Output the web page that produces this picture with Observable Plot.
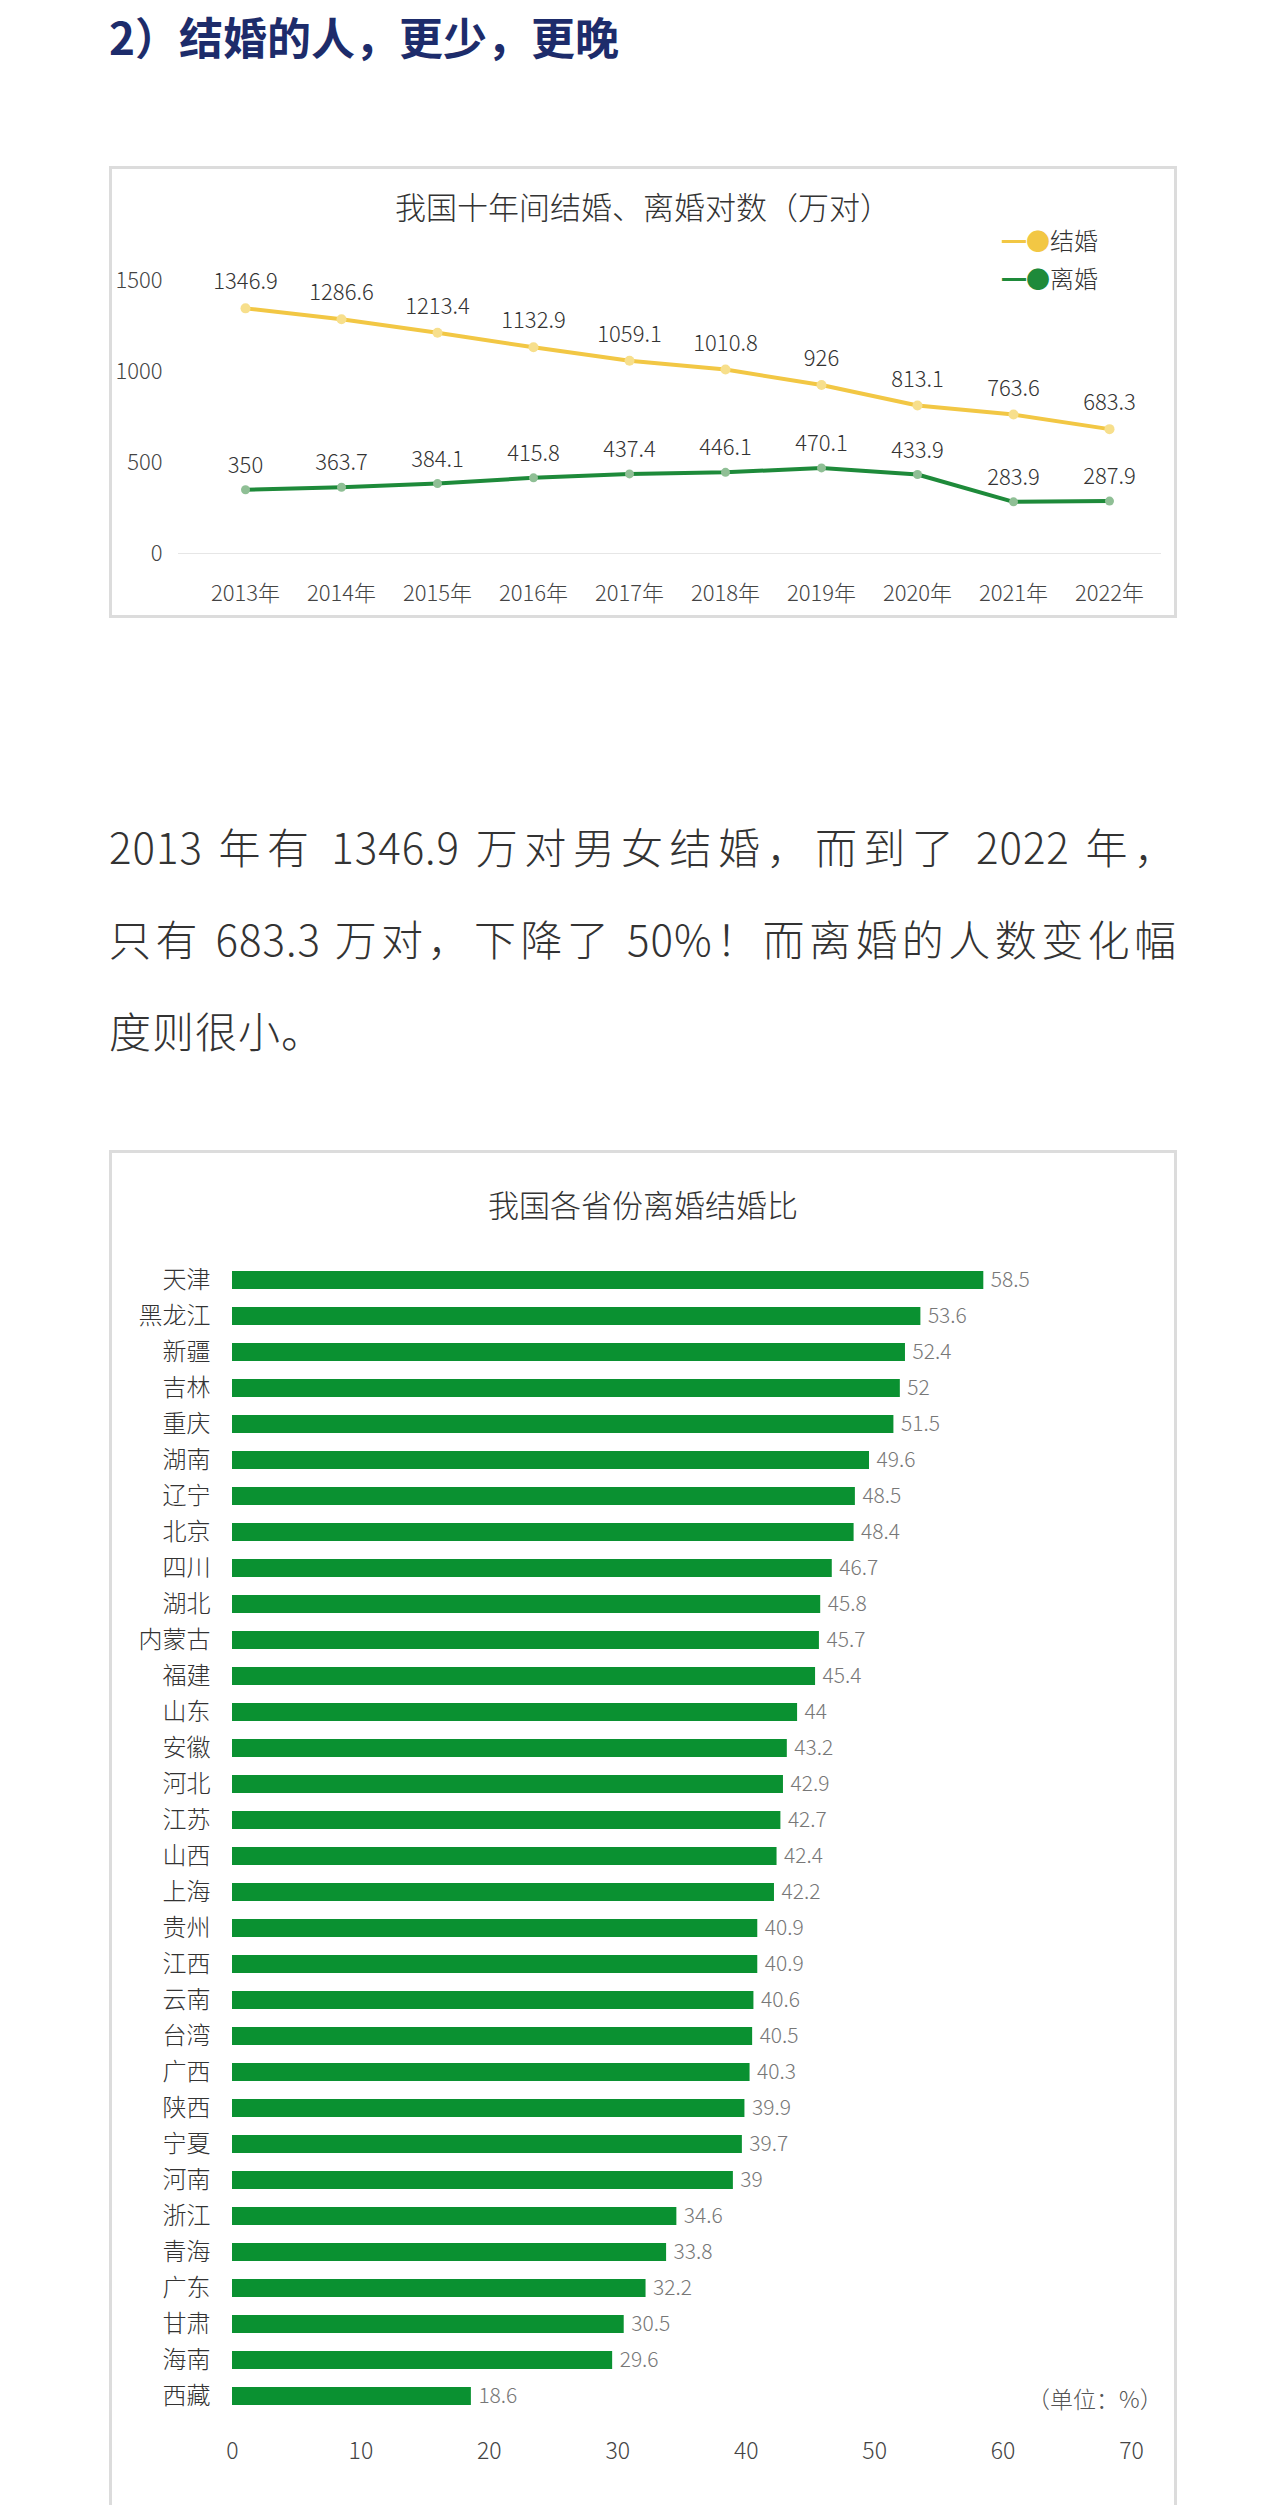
<!DOCTYPE html>
<html><head><meta charset="utf-8">
<script src="https://cdn.jsdelivr.net/npm/d3@7"></script>
<script src="https://cdn.jsdelivr.net/npm/@observablehq/plot@0.6"></script>
<style>
body{margin:0;background:#fff;font-family:"Noto Sans CJK SC","Noto Sans",sans-serif;}
#page{position:relative;width:1284px;height:2505px;overflow:hidden;}
.abs{position:absolute;}
.box{position:absolute;border:3px solid #dcdcdc;box-sizing:border-box;background:#fff;}
h2{position:absolute;left:109px;top:4px;margin:0;font-size:44px;font-weight:700;color:#1d2c6b;}
.para{position:absolute;left:109px;top:800px;width:1068px;font-size:42px;font-weight:300;color:#333;line-height:92px;letter-spacing:1px;}
.para div{text-align:justify;text-align-last:justify;}
.para div.last{text-align-last:left;}
.title{position:absolute;left:0;width:100%;text-align:center;font-size:31px;font-weight:300;color:#333;}
</style></head>
<body><div id="page">
<h2>2）结婚的人，更少，更晚</h2>
<div class="box" id="box1" style="left:109px;top:166px;width:1068px;height:452px;">
  <div class="title" style="top:14px;">我国十年间结婚、离婚对数（万对）</div>
  <div id="line"></div>
  <div class="abs" style="left:890px;top:52px;font-size:24px;font-weight:300;color:#333;line-height:38px;">
    <div><span style="color:#f2c744">━●</span>结婚</div>
    <div><span style="color:#1e8a3a">━●</span>离婚</div>
  </div>
</div>
<div class="para">
  <div>2013 年有 1346.9 万对男女结婚，而到了 2022 年，</div>
  <div>只有 683.3 万对，下降了 50%！而离婚的人数变化幅</div>
  <div class="last">度则很小。</div>
</div>
<div class="box" id="box2" style="left:109px;top:1150px;width:1068px;height:1400px;">
  <div class="title" style="top:28px;">我国各省份离婚结婚比</div>
  <div id="bar"></div>
  <div class="abs" style="left:915px;top:1228px;font-size:23px;font-weight:300;color:#555;">（单位：%）</div>
</div>
</div>
<script>
const years = ["2013年","2014年","2015年","2016年","2017年","2018年","2019年","2020年","2021年","2022年"];
const marriage = [1346.9,1286.6,1213.4,1132.9,1059.1,1010.8,926,813.1,763.6,683.3];
const divorce = [350,363.7,384.1,415.8,437.4,446.1,470.1,433.9,283.9,287.9];

const provinces = ["天津","黑龙江","新疆","吉林","重庆","湖南","辽宁","北京","四川","湖北","内蒙古","福建","山东","安徽","河北","江苏","山西","上海","贵州","江西","云南","台湾","广西","陕西","宁夏","河南","浙江","青海","广东","甘肃","海南","西藏"];
const ratios = [58.5,53.6,52.4,52,51.5,49.6,48.5,48.4,46.7,45.8,45.7,45.4,44,43.2,42.9,42.7,42.4,42.2,40.9,40.9,40.6,40.5,40.3,39.9,39.7,39,34.6,33.8,32.2,30.5,29.6,18.6];

const font = "'Noto Sans CJK SC', sans-serif";
const m = years.map((y,i)=>({year:y, v:marriage[i]}));
const dv = years.map((y,i)=>({year:y, v:divorce[i]}));

const line = Plot.plot({
  width: 1062, height: 446,
  marginLeft: 66, marginRight: 13, marginBottom: 44,
  style:{fontFamily:font, fontSize:"22px", fontWeight:300, color:"#444", background:"transparent"},
  x:{type:"point", domain:years, range:[130,1000], padding:0, label:null, tickSize:0, tickPadding:14},
  y:{domain:[0,1500], range:[384,111], ticks:[0,500,1000,1500], tickFormat:"d", label:null, tickSize:0, tickPadding:16},
  marks:[
    Plot.ruleY([0],{stroke:"#e6e6e6"}),
    Plot.line(m,{x:"year",y:"v",stroke:"#f2c744",strokeWidth:4}),
    Plot.dot(m,{x:"year",y:"v",r:5,fill:"#f7df8c"}),
    Plot.text(m,{x:"year",y:"v",text:d=>String(d.v),dy:-26,fill:"#333",fontSize:22}),
    Plot.line(dv,{x:"year",y:"v",stroke:"#1e8a3a",strokeWidth:4}),
    Plot.dot(dv,{x:"year",y:"v",r:4.5,fill:"#8fbf95"}),
    Plot.text(dv,{x:"year",y:"v",text:d=>String(d.v),dy:-24,fill:"#333",fontSize:22})
  ]
});
document.getElementById("line").append(line);

const bd = provinces.map((p,i)=>({p, v:ratios[i]}));
const bar = Plot.plot({
  width: 1062, height: 1360,
  marginLeft: 120, marginRight: 43, marginTop: 97, marginBottom: 87,
  style:{fontFamily:font, fontSize:"22px", fontWeight:300, color:"#444", background:"transparent"},
  x:{domain:[0,70], range:[120,1019], label:null},
  y:{domain:provinces, padding:0.5, label:null},
  axis:null,
  marks:[
    Plot.axisX({ticks:d3.range(0,71,10), tickSize:0, tickPadding:16, label:null, fontSize:23}),
    Plot.axisY({tickSize:0, tickPadding:22, label:null, fontSize:24, fill:"#333"}),
    Plot.barX(bd,{x:"v",y:"p",fill:"#0a9131"}),
    Plot.text(bd,{x:"v",y:"p",text:d=>String(d.v),textAnchor:"start",dx:7,fill:"#777",fontSize:21})
  ]
});
document.getElementById("bar").append(bar);
</script>
</body></html>
